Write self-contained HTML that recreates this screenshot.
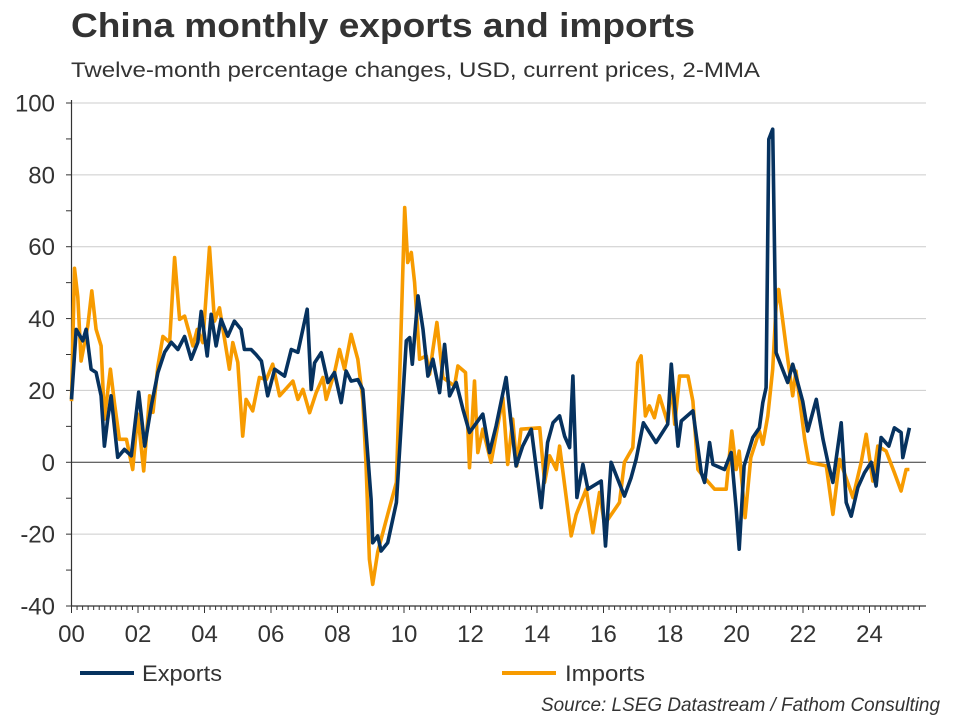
<!DOCTYPE html>
<html><head><meta charset="utf-8"><style>
body{margin:0;background:#fff;}
svg{display:block;font-family:"Liberation Sans",Arial,sans-serif;}
</style></head><body>
<svg id="chart" width="960" height="720" xmlns="http://www.w3.org/2000/svg">
<text x="71" y="37" font-size="34" font-weight="bold" fill="#333" textLength="624" lengthAdjust="spacingAndGlyphs">China monthly exports and imports</text>
<text x="71" y="77" font-size="21" fill="#333" textLength="689" lengthAdjust="spacingAndGlyphs">Twelve-month percentage changes, USD, current prices, 2-MMA</text>
<g id="grid"></g>
<g id="axes"></g>
<g id="series"></g>
<g>
<line x1="80" y1="673" x2="134" y2="673" stroke="#06325f" stroke-width="4"/>
<text x="142" y="681" font-size="22" fill="#333" textLength="80" lengthAdjust="spacingAndGlyphs">Exports</text>
<line x1="502" y1="673" x2="556" y2="673" stroke="#f79b00" stroke-width="4"/>
<text x="565" y="681" font-size="22" fill="#333" textLength="80" lengthAdjust="spacingAndGlyphs">Imports</text>
</g>
<text x="940" y="711" text-anchor="end" font-size="19" font-style="italic" fill="#333" textLength="399" lengthAdjust="spacingAndGlyphs">Source: LSEG Datastream / Fathom Consulting</text>
</svg>
<script>
const yTicks=[100,80,60,40,20,0,-20,-40];
const xTickLabels=["00","02","04","06","08","10","12","14","16","18","20","22","24"];
const expDates=[0.0,0.14,0.34,0.44,0.59,0.74,0.89,0.99,1.09,1.19,1.39,1.59,1.80,2.02,2.20,2.40,2.60,2.80,3.00,3.20,3.40,3.60,3.80,3.90,4.08,4.20,4.35,4.50,4.70,4.90,5.10,5.20,5.40,5.55,5.71,5.90,6.11,6.41,6.61,6.81,7.09,7.21,7.31,7.51,7.71,7.91,8.11,8.26,8.41,8.61,8.76,9.01,9.06,9.21,9.31,9.51,9.77,9.92,10.07,10.17,10.25,10.42,10.57,10.72,10.87,11.07,11.22,11.37,11.57,11.77,11.97,12.37,12.57,12.77,13.07,13.22,13.37,13.57,13.83,14.13,14.32,14.48,14.68,14.83,14.98,15.08,15.20,15.38,15.53,15.93,16.06,16.23,16.63,16.83,16.98,17.20,17.58,17.93,18.04,18.24,18.34,18.69,18.94,19.04,19.19,19.29,19.64,19.84,19.99,20.08,20.23,20.49,20.69,20.79,20.89,20.97,21.09,21.19,21.54,21.69,21.99,22.14,22.40,22.60,22.75,22.90,23.15,23.30,23.45,23.65,23.85,24.05,24.20,24.35,24.58,24.75,24.95,25.00,25.20];
const expValues=[17.5,37,33.8,37,25.9,25,18.5,4.5,12,18.5,1.4,3.6,1.8,19.5,4.5,15.7,25,30.6,33.4,31.4,35,28.7,33.4,42,29.6,41.2,32.4,39.8,35.1,39.3,37,31.4,31.4,30,28.2,18.5,25.9,24,31.4,30.6,42.6,20.3,27.7,30.5,22.2,25,16.6,25.4,22.6,23,20.3,-10.3,-22.4,-20.5,-24.7,-22.4,-11.2,11,33.8,34.7,27.3,46.3,37,24,28.7,19.4,32.8,18.5,22.2,14.8,8.3,13.4,2.7,10.1,23.6,11,-1,4.5,9.2,-12.6,5.5,11,12.9,7.3,4.1,24,-9.8,-0.6,-7.5,-5.2,-23.3,0,-9.4,-4.3,0.8,11,5.5,10.6,27.3,4.5,11.5,14.3,-2.9,-5.6,5.5,-0.6,-2,2.7,-13,-24.2,-1,6.9,9.6,16.6,20.8,89.9,92.7,30.5,22.2,27.3,17,8.7,17.5,6.4,0,-5.6,11,-11.2,-15,-7,-2.9,0,-6.6,6.9,4.5,9.6,8.3,1.3,9.6];
const impDates=[0.0,0.09,0.19,0.29,0.49,0.61,0.74,0.89,0.99,1.17,1.29,1.44,1.65,1.84,1.99,2.17,2.35,2.45,2.60,2.75,2.95,3.10,3.25,3.40,3.65,3.78,3.95,4.15,4.30,4.45,4.75,4.85,5.00,5.15,5.25,5.45,5.65,5.86,6.05,6.26,6.66,6.81,6.96,7.16,7.36,7.56,7.66,7.91,8.06,8.21,8.41,8.61,8.76,8.86,8.96,9.06,9.21,9.51,9.77,9.86,10.02,10.11,10.22,10.32,10.47,10.67,10.77,10.87,10.99,11.17,11.52,11.62,11.85,11.97,12.12,12.22,12.37,12.62,12.97,13.12,13.27,13.39,13.52,14.08,14.23,14.38,14.58,14.68,15.03,15.18,15.48,15.68,15.88,16.03,16.48,16.63,16.88,17.03,17.13,17.26,17.38,17.53,17.68,17.93,18.04,18.14,18.29,18.54,18.69,18.84,18.99,19.34,19.69,19.86,19.99,20.08,20.26,20.43,20.69,20.79,20.94,21.09,21.19,21.27,21.49,21.69,21.79,22.05,22.17,22.70,22.90,23.10,23.50,23.75,23.90,24.10,24.25,24.50,24.75,24.95,25.10,25.20];
const impValues=[17,54,46,28.2,38,47.7,37,32.4,12,25.9,16.6,6.4,6.4,-2,13.4,-2.4,18.5,13.9,26.8,35,33.4,57,39.8,40.7,32.4,37,33.3,59.8,39.3,43,25.9,33.3,27.8,7.3,17.5,14.3,23.6,23,27.3,18.5,22.6,17.5,20.3,13.8,19.4,23.6,17.5,25,31.4,25.9,35.6,28.7,17.5,-1,-27,-34,-25,-14.5,-5.6,20.3,70.9,55.6,58.4,50,28.7,29.6,24.5,31.4,38.9,23.6,21.2,26.8,25,-1.5,22.6,2.7,9.2,0,18,-0.6,12,-1,9.2,9.6,-5.6,1.8,-2,4.5,-20.5,-14.5,-7.5,-19.6,-8.4,-17.3,-11.2,0,4.1,27.7,29.6,12.9,15.7,12.4,18.5,11,22.2,10.6,24,24,17,-2,-3.8,-7.5,-7.5,8.7,-2,3.1,-15.4,1.3,8.7,5,12.9,25.9,43.5,48.1,32.4,18.5,25.4,6.4,0,-1,-14.5,0.8,-9.8,0,7.8,-5.2,4.5,3.1,-2.9,-8,-2,-2];

const NS="http://www.w3.org/2000/svg";
const X0=71.5, XPY=33.25, XEND=926, YT=103, YB=606;
const xs=d=>X0+d*XPY;
const ys=v=>YT+(100-v)*(YB-YT)/140;
function mk(tag,attrs,parent){const e=document.createElementNS(NS,tag);for(const k in attrs)e.setAttribute(k,attrs[k]);parent.appendChild(e);return e;}
const grid=document.getElementById('grid'), axes=document.getElementById('axes'), series=document.getElementById('series');
yTicks.forEach(v=>{
  if(v!==0&&v!==-40){const g=mk('line',{x1:X0,x2:XEND,y1:ys(v),y2:ys(v),stroke:'#cccccc','stroke-width':1},grid);
  
  }
  const t=mk('text',{x:55,y:ys(v)+8.5,'text-anchor':'end','font-size':24,fill:'#333'},axes);
  t.textContent=v;
  
  
});
for(let v=-40;v<=100;v+=10){const tk=mk('line',{x1:66,x2:X0,y1:ys(v),y2:ys(v),stroke:'#333','stroke-width':1},axes);
  
  }
const ya=mk('line',{x1:X0,x2:X0,y1:YT-3,y2:YB,stroke:'#333','stroke-width':1.2},axes);


const za=mk('line',{x1:X0,x2:XEND,y1:ys(0),y2:ys(0),stroke:'#333','stroke-width':1},axes);


const xa=mk('line',{x1:X0,x2:XEND,y1:YB,y2:YB,stroke:'#333','stroke-width':1.2},axes);


for(let m=0;m<=25.6*6;m++){const d=m/6;const major=(m%12===0);
  const tk=mk('line',{x1:xs(d),x2:xs(d),y1:YB,y2:YB+(major?7:4),stroke:'#333','stroke-width':1},axes);
  
  }
xTickLabels.forEach((l,i)=>{const t=mk('text',{x:xs(i*2),y:642,'text-anchor':'middle','font-size':24,fill:'#333'},axes);
  t.textContent=l;
  
  });
function line(dates,vals,color,name){
  const p=mk('polyline',{points:dates.map((d,i)=>xs(d).toFixed(1)+','+ys(vals[i]).toFixed(1)).join(' '),fill:'none',stroke:color,'stroke-width':3.6,'stroke-linejoin':'round'},series);
  
  
}
line(impDates,impValues,'#f79b00','imports-line');
line(expDates,expValues,'#06325f','exports-line');
</script>
</body></html>
